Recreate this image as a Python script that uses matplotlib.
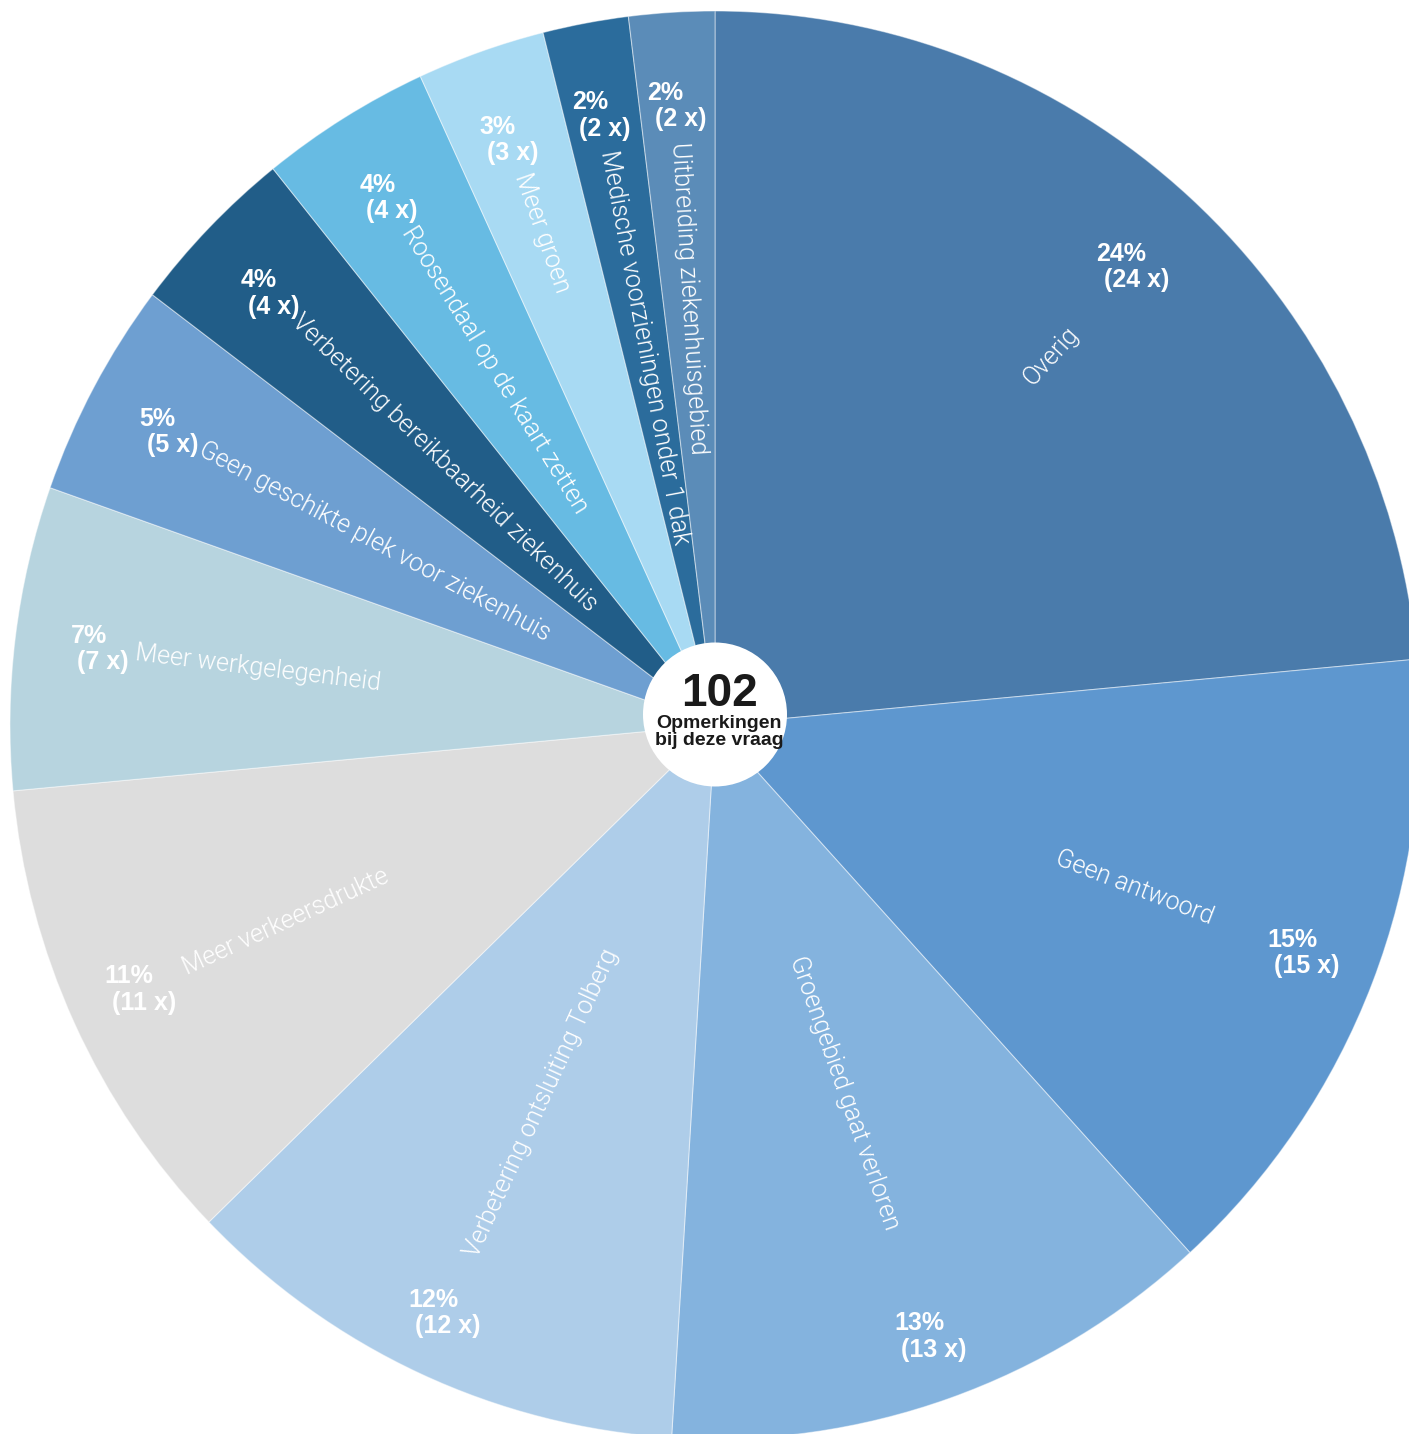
import numpy as np
import matplotlib
matplotlib.use("Agg")
import matplotlib.pyplot as plt
from matplotlib.patches import Ellipse

# ---- data ----
categories = [
    "Overig",
    "Geen antwoord",
    "Groengebied gaat verloren",
    "Verbetering ontsluiting Tolberg",
    "Meer verkeersdrukte",
    "Meer werkgelegenheid",
    "Geen geschikte plek voor ziekenhuis",
    "Verbetering bereikbaarheid ziekenhuis",
    "Roosendaal op de kaart zetten",
    "Meer groen",
    "Medische voorzieningen onder 1 dak",
    "Uitbreiding ziekenhuisgebied",
]
counts = [24, 15, 13, 12, 11, 7, 5, 4, 4, 3, 2, 2]
percents = [24, 15, 13, 12, 11, 7, 5, 4, 4, 3, 2, 2]
colors = [
    "#4a7bab", "#5e97cf", "#84b3de", "#aecde9", "#dddddd", "#b7d4df",
    "#6e9fd1", "#215d88", "#67bbe3", "#a8daf3", "#2b6c9c", "#5b8cb8",
]
total_label = "102"
center_sub = "Opmerkingen\nbij deze vraag"

# ---- layout (pixels of the 1409x1434 canvas) ----
W, H = 1409, 1434
CX, CY = 715, 725
RX, RY = 705, 714

fig = plt.figure(figsize=(W / 100, H / 100), dpi=100)
ax = fig.add_axes([0, 0, 1, 1])

wedges, _ = ax.pie(
    counts, colors=colors, startangle=90, counterclock=False, radius=1.0,
    center=(0, 0),
    wedgeprops=dict(edgecolor=(1, 1, 1, 0.45), linewidth=0.8),
)
ax.set_aspect("auto")
ax.set_xlim(-CX / RX, (W - CX) / RX)
ax.set_ylim(-(H - CY) / RY, CY / RY)
ax.axis("off")

name_font = dict(family=["Roboto", "DejaVu Sans"], weight=300,
                 fontsize=18, color="white")
pct_font = dict(family=["Liberation Sans", "DejaVu Sans"], weight="bold",
                fontsize=18, color="white")

cum = np.cumsum([0] + counts)
tot = float(sum(counts))
for i, (cat, c, p) in enumerate(zip(categories, counts, percents)):
    theta = (cum[i] + c / 2) / tot * 360.0  # clockwise from top
    t = np.deg2rad(theta)
    s, co = np.sin(t), np.cos(t)
    # category name, radial
    if theta < 180:
        r = 534.0
        rot = 90 - theta
        ha = "right"
    else:
        r = 584.0
        rot = 270 - theta
        ha = "left"
    ax.text(r * s / RX, r * co / RY, cat, rotation=rot, rotation_mode="anchor",
            ha=ha, va="center", **name_font)
    # percentage label
    rp = 620 + 30 * max(0.0, -co)
    ax.text(rp * s / RX, rp * co / RY, f"{p}%\n ({c} x)", ha="center",
            va="center", multialignment="left", linespacing=1.12, **pct_font)

# centre circle
circ = Ellipse((0, (CY - 714.5) / RY), 2 * 72 / RX, 2 * 72 / RY,
               facecolor="white", edgecolor="none", zorder=5)
ax.add_patch(circ)
ax.text(5 / RX, (CY - 694) / RY, total_label, ha="center", va="center",
        family=["Liberation Sans", "DejaVu Sans"], weight="bold",
        fontsize=33, color="#1a1a1a", zorder=6)
ax.text(4 / RX, (CY - 732) / RY, center_sub, ha="center", va="center",
        family=["Liberation Sans", "DejaVu Sans"], weight="bold",
        fontsize=14, color="#1a1a1a", linespacing=0.95, zorder=6)

fig.savefig("out.png", dpi=100, facecolor="white")
